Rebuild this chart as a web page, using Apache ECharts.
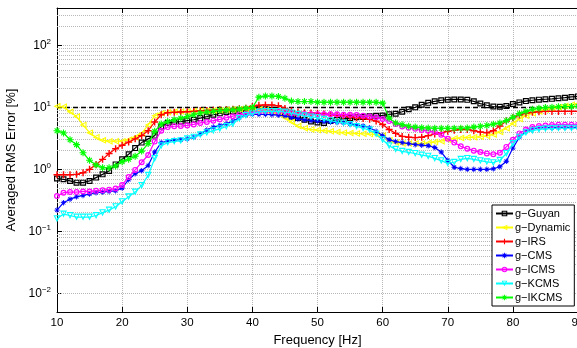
<!DOCTYPE html>
<html><head><meta charset="utf-8">
<script src="https://cdn.jsdelivr.net/npm/echarts@6/dist/echarts.min.js"></script>
<style>html,body{margin:0;padding:0;background:#fff}#c{width:577px;height:348px}</style>
</head><body><div id="c"></div><script>
const freq = [10,11,12,13,14,15,16,17,18,19,20,21,22,23,24,25,26,27,28,29,30,31,32,33,34,35,36,37,38,39,40,41,42,43,44,45,46,47,48,49,50,51,52,53,54,55,56,57,58,59,60,61,62,63,64,65,66,67,68,69,70,71,72,73,74,75,76,77,78,79,80,81,82,83,84,85,86,87,88,89,90];
const guyan = [0.71,0.69,0.65,0.61,0.61,0.65,0.735,0.83,0.94,1.2,
 1.45,1.75,2.2,2.7,3.1,3.5,4.9,5.6,5.8,5.9,
 6.1,6.3,6.7,7.1,7.6,8.0,8.4,8.6,8.8,9.0,
 9.2,9.35,9.35,9.1,8.6,7.8,7.1,6.7,6.3,5.9,
 5.7,5.6,6.0,6.3,6.5,6.7,6.9,7.0,7.2,7.3,
 7.4,7.7,7.9,8.5,9.3,10.0,11.0,11.8,12.5,13.0,
 13.3,13.4,13.4,13.2,12.5,11.5,10.8,10.3,10.2,10.5,
 11.3,12.0,12.6,13.0,13.3,13.5,13.7,14.0,14.3,14.7,15.0];
const dynamic = [10.4,10.2,8.5,7.1,5.2,3.9,3.3,2.95,2.85,2.85,
 2.85,3.0,3.3,3.8,5.2,7.3,8.0,8.3,8.5,8.6,
 8.6,8.7,8.8,8.8,8.9,9.0,9.1,9.2,9.3,9.4,
 9.4,9.2,9.0,8.6,7.9,6.8,5.8,5.0,4.6,4.4,
 4.3,4.2,4.1,4.0,3.9,3.85,3.8,3.75,3.7,3.65,
 3.5,2.95,2.7,2.6,2.6,2.6,2.6,2.65,2.75,2.85,
 3.0,3.15,3.2,3.25,3.3,3.35,3.45,3.65,4.0,4.6,
 5.5,6.5,7.3,8.0,8.6,9.1,9.6,10.0,10.5,11.0,11.4];
const irs = [0.82,0.82,0.82,0.83,0.88,1.0,1.2,1.45,1.8,2.15,
 2.45,2.75,3.1,3.5,4.2,5.8,7.6,8.2,8.3,8.4,
 8.5,8.6,8.8,8.9,9.0,9.1,9.2,9.3,9.5,9.7,
 10.3,10.8,10.9,10.9,10.6,9.6,8.8,8.4,8.2,8.1,
 8.0,7.8,7.6,7.4,7.2,7.0,6.8,6.6,6.4,6.0,
 5.3,4.4,3.8,3.4,3.3,3.25,3.3,3.5,3.7,3.9,
 4.1,4.25,4.4,4.4,4.2,4.0,3.9,4.2,5.0,6.0,
 6.8,7.5,8.0,8.3,8.5,8.6,8.6,8.6,8.6,8.6,8.6];
const cms = [0.22,0.29,0.33,0.36,0.38,0.4,0.42,0.43,0.44,0.45,
 0.5,0.68,0.85,0.95,1.15,1.9,2.7,2.85,2.95,3.0,
 3.1,3.3,3.7,4.3,4.8,5.1,5.4,6.0,6.8,7.5,
 7.7,7.7,7.7,7.6,7.5,7.3,6.9,6.5,6.3,6.1,
 6.0,5.9,5.8,5.7,5.6,5.4,5.2,5.0,4.7,4.1,
 3.5,3.0,2.8,2.7,2.6,2.5,2.45,2.4,2.25,1.9,
 1.4,1.08,1.03,1.0,1.0,1.0,1.0,1.02,1.1,1.35,
 2.2,3.3,4.1,4.5,4.65,4.7,4.7,4.7,4.75,4.75,4.75];
const icms = [0.37,0.42,0.43,0.43,0.44,0.44,0.45,0.46,0.47,0.49,
 0.56,0.75,0.98,1.3,1.7,2.8,4.2,4.8,4.95,5.0,
 5.1,5.3,5.6,5.8,6.1,6.4,6.8,7.2,7.6,7.9,
 8.3,8.6,8.7,8.7,8.6,8.3,8.0,7.8,7.8,7.7,
 7.7,7.7,7.7,7.7,7.6,7.6,7.5,7.3,7.1,6.9,
 6.5,6.0,5.4,4.9,4.7,4.5,4.3,4.2,4.0,3.6,
 3.1,2.7,2.35,2.15,2.0,1.9,1.8,1.75,1.85,2.3,
 3.0,3.8,4.4,4.8,5.0,5.1,5.2,5.25,5.25,5.25,5.25];
const kcms = [0.16,0.19,0.18,0.17,0.17,0.17,0.18,0.2,0.22,0.25,
 0.3,0.36,0.43,0.55,0.8,1.5,2.4,2.7,2.8,2.9,
 3.1,3.3,3.6,3.9,4.2,4.5,4.9,5.4,6.6,7.4,
 7.9,8.4,8.6,8.6,8.6,8.4,8.1,7.7,7.3,7.0,
 6.8,6.4,6.1,5.8,5.6,5.3,4.9,4.6,4.3,3.7,
 3.0,2.4,2.1,1.95,1.88,1.8,1.7,1.63,1.5,1.38,
 1.25,1.3,1.45,1.5,1.45,1.38,1.32,1.28,1.4,1.8,
 2.6,3.3,3.9,4.2,4.4,4.5,4.55,4.6,4.6,4.6,4.6];
const ikcms = [4.2,3.86,3.0,2.5,1.85,1.4,1.17,1.06,1.06,1.13,
 1.33,1.45,1.63,1.97,2.6,4.1,5.4,5.9,6.3,6.7,
 7.1,7.6,8.1,8.4,8.6,8.9,9.0,9.1,9.4,9.7,
 9.9,14.6,15.2,15.2,15.0,14.0,12.6,12.4,12.4,12.4,
 12.1,12.1,12.1,12.1,12.1,12.1,12.1,12.1,12.1,12.1,
 11.7,6.7,5.6,5.25,4.95,4.8,4.7,4.65,4.6,4.6,
 4.6,4.6,4.6,4.65,4.8,4.95,5.1,5.35,5.6,6.1,
 6.9,7.9,8.6,9.3,9.7,9.9,10.0,10.2,10.3,10.3,10.4];

const seriesNames = ['g\u2212Guyan','g\u2212Dynamic','g\u2212IRS','g\u2212CMS','g\u2212ICMS','g\u2212KCMS','g\u2212IKCMS'];
const seriesValues = [guyan, dynamic, irs, cms, icms, kcms, ikcms];
const seriesColors = ['#000000','#ffff00','#ff0000','#0000ff','#ff00ff','#00ffff','#00ff00'];
const xTickValues = [10,20,30,40,50,60,70,80,90];
const thresholdLevel = 10;
const yMin = 0.005, yMax = 400;

const FONT = '"Liberation Sans", Arial, Helvetica, sans-serif';
// hollow outline markers as ring paths (inner contour reversed -> transparent hole)
const squareRing = 'path://M0,0H10V10H0Z M2,2V8H8V2Z';
const circleRing = 'path://M5,0A5,5,0,1,1,5,10A5,5,0,1,1,5,0Z M5,2A3,3,0,1,0,5,8A3,3,0,1,0,5,2Z';
const triLeftRing = 'path://M0,5L10,0L10,10Z M3.2,5L8.4,7.6L8.4,2.4Z';
const triDownRing = 'path://M0,0L10,0L5,10Z M2.4,1.6L5,6.8L7.6,1.6Z';
const plusPath = 'path://M4,0H6V4H10V6H6V10H4V6H0V4H4Z';
const starPath = 'path://M4.2,0H5.8V10H4.2Z M0,4.2H10V5.8H0Z M1.1,2.2L2.2,1.1L8.9,7.8L7.8,8.9Z M7.8,1.1L8.9,2.2L2.2,8.9L1.1,7.8Z';
const symbols = [
  {symbol:squareRing, size:6},
  {symbol:triLeftRing, size:7},
  {symbol:plusPath, size:7},
  {symbol:starPath, size:5.5},
  {symbol:circleRing, size:6},
  {symbol:triDownRing, size:7},
  {symbol:starPath, size:7}
];

// minor grid lines (2..9 x decade) within range
const gridLevels = [];
for (let e = -3; e <= 2; e++) {
  for (let m = 2; m <= 9; m++) {
    const v = m * Math.pow(10, e);
    if (v > yMin * 1.0001 && v < yMax * 0.9999) gridLevels.push(+v.toPrecision(3));
  }
}
const gridStyle = {type:'dotted', color:'#b8b8b8', width:1};

const series = seriesNames.map((name, i) => {
  const s = {
    name: name,
    type: 'line',
    data: freq.map((f, k) => [f, seriesValues[i][k]]),
    symbol: symbols[i].symbol,
    symbolSize: symbols[i].size,
    showAllSymbol: true,
    lineStyle: {color: seriesColors[i], width: 1.2},
    itemStyle: {color: seriesColors[i], borderWidth: 0},
    z: 2 + i * 0.01
  };
  if (i === 0) {
    s.markLine = {
      silent: true, symbol: 'none', z: 1, animation: false,
      label: {show: false},
      lineStyle: gridStyle,
      data: gridLevels.map(v => ({yAxis: v}))
        .concat([{yAxis: thresholdLevel, lineStyle: {type: [5, 3], color: '#000', width: 1.3}}])
    };
  }
  return s;
});

const chart = echarts.init(document.getElementById('c'));
chart.setOption({
  animation: false,
  backgroundColor: '#fff',
  textStyle: {fontFamily: FONT},
  grid: {left: 57, top: 8, right: -1, bottom: 36, containLabel: false, outerBoundsMode: 'none'},
  legend: {
    data: seriesNames,
    orient: 'vertical',
    left: 492, top: 205,
    padding: [2, 4, 2, 3],
    itemWidth: 17, itemHeight: 7, itemGap: 1,
    backgroundColor: '#fff', borderColor: '#000', borderWidth: 1, borderRadius: 0,
    textStyle: {fontFamily: FONT, fontSize: 11, lineHeight: 13, color: '#000', padding: [0,0,0,-3]}
  },
  xAxis: [{
    type: 'value', min: 10, max: 90, interval: 10,
    name: 'Frequency [Hz]', nameLocation: 'middle', nameGap: 20,
    nameTextStyle: {fontFamily: FONT, fontSize: 13, color: '#000'},
    axisLine: {show: true, lineStyle: {color: '#000', width: 1}},
    axisTick: {show: true, inside: true, length: 5, lineStyle: {color: '#000'}},
    axisLabel: {fontFamily: FONT, fontSize: 11.5, color: '#000', margin: 5,
      formatter: v => xTickValues.indexOf(v) >= 0 ? String(v) : ''},
    splitLine: {show: true, lineStyle: gridStyle}
  }, {
    type: 'value', min: 10, max: 90, interval: 10, position: 'top',
    axisLine: {show: true, lineStyle: {color: '#000', width: 1}},
    axisTick: {show: true, inside: true, length: 5, lineStyle: {color: '#000'}},
    axisLabel: {show: false}, splitLine: {show: false}
  }],
  yAxis: [{
    type: 'log', logBase: 10, min: yMin, max: yMax,
    name: 'Averaged RMS Error [%]', nameLocation: 'middle', nameGap: 34,
    nameTextStyle: {fontFamily: FONT, fontSize: 13, color: '#000'},
    axisLine: {show: true, lineStyle: {color: '#000', width: 1}},
    axisTick: {show: true, inside: true, length: 5, lineStyle: {color: '#000'}},
    axisLabel: {
      margin: 6, showMinLabel: false, showMaxLabel: false,
      formatter: v => {
        const e = Math.log10(v); const r = Math.round(e);
        if (Math.abs(e - r) > 1e-6) return '';
        return '{b|10}{e|' + (r < 0 ? '\u2212' + (-r) : String(r)) + '}';
      },
      rich: {
        b: {fontFamily: FONT, fontSize: 12, color: '#000'},
        e: {fontFamily: FONT, fontSize: 8, color: '#000', padding: [0, 0, 8, 0]}
      }
    },
    splitLine: {show: true, lineStyle: gridStyle}
  }],
  series: series
});
</script></body></html>
